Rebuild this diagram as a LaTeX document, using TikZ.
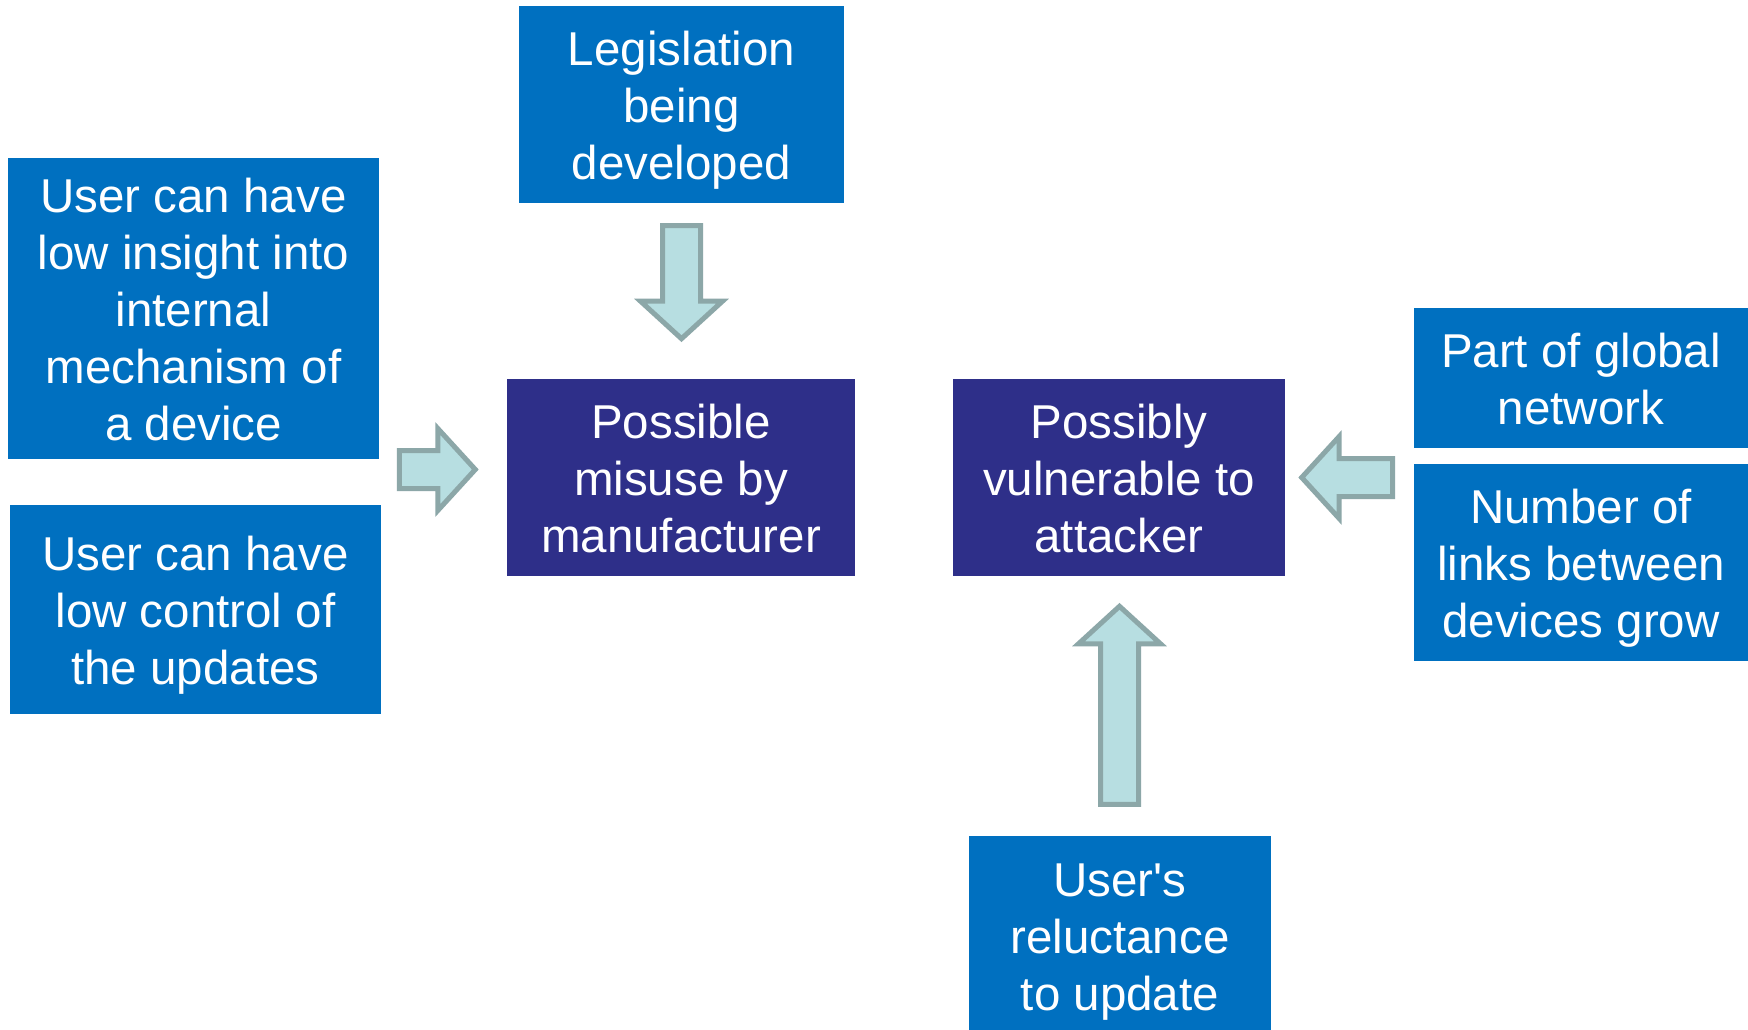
\documentclass[tikz,border=0pt]{standalone}
\usepackage{fontspec}
\setmainfont{Liberation Sans}
\usetikzlibrary{calc}

\definecolor{boxblue}{RGB}{0,112,192}
\definecolor{boxnavy}{RGB}{46,47,137}
\definecolor{arrowfill}{RGB}{183,222,225}
\definecolor{arrowline}{RGB}{140,167,168}

% strut giving the first and last text line a fixed ascent/descent
\newcommand{\ls}{\rule[-10.8pt]{0pt}{57pt}}

% block arrow: #1 tail point, #2 direction (degrees), #3 length in pt
\newcommand{\blockarrow}[3]{%
  \begin{scope}[shift={#1}, rotate=#2]
    \draw[flowarrow] (0pt,-19pt) -- ({#3pt-37.5pt},-19pt) -- ({#3pt-37.5pt},-41pt)
      -- (#3pt,0pt) -- ({#3pt-37.5pt},41pt) -- ({#3pt-37.5pt},19pt) -- (0pt,19pt) -- cycle;
  \end{scope}}

\begin{document}
\begin{tikzpicture}[x=1pt, y=-1pt,
  box/.style={rectangle, fill=boxblue, text=white, inner sep=0pt, align=center,
    font=\fontsize{47.5}{57}\selectfont},
  keybox/.style={box, fill=boxnavy},
  flowarrow/.style={draw=arrowline, fill=arrowfill, line width=5pt, line join=miter}]

\useasboundingbox (0,0) rectangle (1748,1030);
\clip (0,0) rectangle (1748,1030);
\fill[white] (0,0) rectangle (1748,1030);

% central effects
\node[keybox, minimum width=348pt, minimum height=197pt] (misuse) at (681,477.5)
  {\ls Possible\\misuse by\\manufacturer\ls};
\node[keybox, minimum width=332pt, minimum height=197pt] (vuln) at (1119,477.5)
  {\ls Possibly\\vulnerable to\\attacker\ls};

% causes
\node[box, minimum width=325pt, minimum height=197pt] (leg) at (681.5,104.5)
  {\ls Legislation\\being\\developed\ls};
\node[box, minimum width=371pt, minimum height=301pt] (insight) at (193.5,308.5)
  {\ls User can have\\low insight into\\internal\\mechanism of\\a device\ls};
\node[box, minimum width=371pt, minimum height=209pt] (control) at (195.5,609.5)
  {\ls User can have\\low control of\\the updates\ls};
\node[box, minimum width=334pt, minimum height=140pt] (global) at (1581,378)
  {\ls Part of global\\network\ls};
\node[box, minimum width=334pt, minimum height=197pt] (links) at (1581,562.5)
  {\ls Number of\\links between\\devices grow\ls};
\node[box, minimum width=302pt, minimum height=199pt] (reluct) at (1120,935.5)
  {\ls User\textquotesingle s\\reluctance\\to update\ls};

% block arrows
\blockarrow{($(leg.south)+(0,22.5)$)}{-90}{113}
\blockarrow{($(misuse.west)+(-107.5,-8)$)}{0}{76}
\blockarrow{($(vuln.east)+(107.5,0)$)}{180}{91}
\blockarrow{($(reluct.north)+(-0.5,-31.5)$)}{90}{198}

\end{tikzpicture}
\end{document}
